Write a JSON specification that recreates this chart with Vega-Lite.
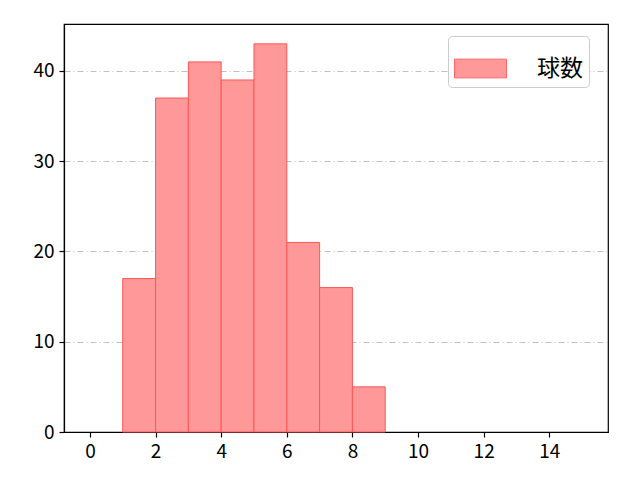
{
  "$schema": "https://vega.github.io/schema/vega-lite/v6.json",
  "width": 544,
  "height": 408,
  "autosize": {"type": "none"},
  "padding": {"left": 64, "top": 24, "right": 32, "bottom": 48},
  "background": "white",
  "config": {
    "font": "Noto Sans CJK JP",
    "view": {"stroke": "black", "strokeWidth": 1.2},
    "axis": {
      "domainColor": "black",
      "tickColor": "black",
      "labelColor": "black",
      "labelFontSize": 19,
      "tickSize": 5,
      "labelPadding": 5,
      "domainWidth": 1.2,
      "tickWidth": 1.2
    }
  },
  "data": {
    "values": [
      {"start": 1, "end": 2, "count": 17, "label": "球数"},
      {"start": 2, "end": 3, "count": 37, "label": "球数"},
      {"start": 3, "end": 4, "count": 41, "label": "球数"},
      {"start": 4, "end": 5, "count": 39, "label": "球数"},
      {"start": 5, "end": 6, "count": 43, "label": "球数"},
      {"start": 6, "end": 7, "count": 21, "label": "球数"},
      {"start": 7, "end": 8, "count": 16, "label": "球数"},
      {"start": 8, "end": 9, "count": 5, "label": "球数"}
    ]
  },
  "mark": {"type": "rect", "stroke": "#ff5555", "strokeWidth": 1, "opacity": 1},
  "encoding": {
    "x": {
      "field": "start",
      "type": "quantitative",
      "title": null,
      "scale": {"domain": [-0.79, 15.79], "nice": false, "zero": false},
      "axis": {"values": [0, 2, 4, 6, 8, 10, 12, 14], "grid": false}
    },
    "x2": {"field": "end"},
    "y": {
      "field": "count",
      "type": "quantitative",
      "title": null,
      "scale": {"domain": [0, 45.2], "nice": false},
      "axis": {
        "values": [0, 10, 20, 30, 40],
        "grid": true,
        "gridColor": "#b0b0b0",
        "gridDash": [6, 3, 1, 3],
        "gridWidth": 0.8
      }
    },
    "y2": {"datum": 0},
    "color": {
      "field": "label",
      "type": "nominal",
      "scale": {"range": ["#ff9999"]},
      "legend": {
        "title": null,
        "orient": "none",
        "legendX": 384,
        "legendY": 12,
        "symbolType": "M-1,-0.36H1V0.36H-1Z",
        "symbolSize": 2704,
        "symbolStrokeColor": "#ff6666",
        "symbolStrokeWidth": 1,
        "symbolOpacity": 1,
        "labelFontSize": 23,
        "labelOffset": 30,
        "strokeColor": "#cccccc",
        "fillColor": "white",
        "cornerRadius": 4,
        "padding": 6
      }
    }
  }
}
